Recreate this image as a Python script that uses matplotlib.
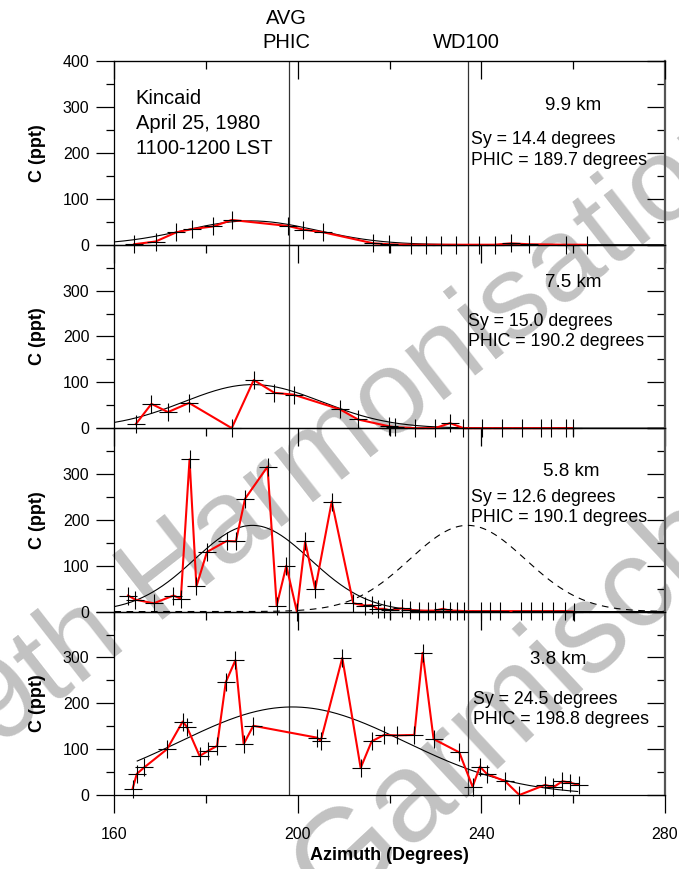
import numpy as np
import matplotlib
matplotlib.use("Agg")
import matplotlib.pyplot as plt
from matplotlib.ticker import MultipleLocator

plt.rcParams['font.family'] = ['Liberation Sans', 'DejaVu Sans']

# ---------------- data ----------------
az1 = [164.3, 169.0, 173.5, 176.9, 181.6, 185.6, 197.8, 201.2, 205.6, 216.5, 219.9,
       224.6, 227.9, 231.2, 234.5, 239.5, 242.9, 246.5, 250.3, 258.4, 263.0]
c1 = [1, 7, 27, 34, 40, 54, 41, 33, 27, 3, 1,
      0, 0, 0, 0, 0, 0, 3, 1, 0, 0]

az2 = [164.7, 168.1, 171.7, 176.3, 185.6, 190.4, 194.9, 199.1, 209.2, 213.1, 219.9,
       221.2, 225.6, 229.9, 233.2, 236.1, 240.1, 244.5, 248.8, 253.0, 255.1, 258.4, 259.9]
c2 = [9, 53, 35, 55, 0, 105, 77, 73, 41, 19, 4,
      2, 0, 0, 11, 0, 0, 0, 0, 0, 0, 0, 0]

az3 = [163.0, 164.6, 168.6, 172.9, 174.5, 176.4, 177.9, 180.2, 184.5, 186.5, 188.5,
       193.4, 195.4, 197.5, 199.8, 201.6, 203.8, 207.4, 212.1, 214.7, 216.1, 217.4, 218.7,
       220.0, 222.7, 224.5, 226.5, 228.3, 229.9, 231.6, 233.2, 234.7, 236.3,
       240.0, 241.9, 244.1, 248.6, 250.8, 253.3, 255.7, 258.3, 260.1]
c3 = [35, 26, 18, 35, 28, 332, 55, 130, 154, 153, 246,
      316, 13, 100, 0, 153, 49, 240, 18, 13, 14, 6, 6,
      3, 7, 3, 2, 2, 2, 6, 2, 2, 1,
      1, 1, 1, 1, 1, 1, 1, 1, 0]

az4 = [164.0, 164.9, 166.5, 171.5, 174.9, 175.8, 178.6, 180.4, 182.4, 184.3, 186.4,
       188.2, 190.3, 204.2, 205.0, 209.7, 213.7, 216.1, 218.8, 221.6, 225.4, 227.2,
       229.6, 235.2, 238.1, 239.7, 241.2, 245.2, 248.3, 253.9, 255.7, 257.7, 259.3, 261.2]
c4 = [14, 46, 60, 100, 160, 149, 85, 96, 107, 246, 294,
      111, 151, 125, 118, 299, 59, 117, 131, 130, 131, 310,
      122, 93, 18, 62, 46, 30, 0, 22, 17, 30, 27, 22]

# Gaussian fit parameters (amplitude, PHIC, Sy) and plotted ranges
fit_amp = [52, 95, 188, 192]
fit_phic = [189.7, 190.2, 190.1, 198.8]
fit_sy = [14.4, 15.0, 12.6, 24.5]
fit_lo = [160, 160, 160, 165]
fit_hi = [280, 280, 280, 261]
wd100 = 237.0
avg_phic = 198.1

distances = ['9.9 km', '7.5 km', '5.8 km', '3.8 km']
site_lines = ['Kincaid', 'April 25, 1980', '1100-1200 LST']

xticks = [160, 200, 240, 280]
xticklabels = ['160', '200', '240', '280']
yticks = [0, 100, 200, 300, 400]
yticklabels_top = ['0', '100', '200', '300', '400']
yticklabels_other = ['0', '100', '200', '300', '']

azs = [az1, az2, az3, az4]
cs = [c1, c2, c3, c4]

# ---------------- figure ----------------
W, H = 679, 869
fig = plt.figure(figsize=(W / 100, H / 100), dpi=100)
fig.patch.set_facecolor('white')

left_px, right_px = 114.3, 664.8
top_px, bot_px = 61.3, 795.0
ph = (bot_px - top_px) / 4


def px(x, y):
    return x / W, 1 - y / H


# watermark (behind everything)
fig.text(*px(-2, 748), '9th Harmonisation', rotation=38, rotation_mode='anchor',
         ha='left', va='baseline', fontsize=86, color='#c2c2c2', zorder=-10)
fig.text(*px(335, 915), 'Garmisch-Partenkirchen', rotation=43, rotation_mode='anchor',
         ha='left', va='baseline', fontsize=92, color='#c2c2c2', zorder=-10)

axes = []
for i in range(4):
    y0 = 1 - (top_px + ph * (i + 1)) / H
    ax = fig.add_axes([left_px / W, y0, (right_px - left_px) / W, ph / H])
    ax.set_facecolor('none')
    axes.append(ax)
    ax.set_xlim(160, 280)
    ax.set_ylim(0, 400)

    # data
    ax.plot(azs[i], cs[i], color='#ff0000', lw=1.5, zorder=3, clip_on=False)
    ax.plot(azs[i], cs[i], linestyle='none', marker='+', markersize=13,
            markeredgewidth=0.8, color='black', zorder=4, clip_on=False)

    # fitted gaussian
    xg = np.linspace(fit_lo[i], fit_hi[i], 400)
    yg = fit_amp[i] * np.exp(-(xg - fit_phic[i]) ** 2 / (2 * fit_sy[i] ** 2))
    ax.plot(xg, yg, color='black', lw=0.8, zorder=2)
    if i == 2:
        yd = fit_amp[i] * np.exp(-(xg - wd100) ** 2 / (2 * fit_sy[i] ** 2))
        ax.plot(xg, yd, color='black', lw=0.8, ls=(0, (6, 5)), zorder=2)

    ax.axvline(avg_phic, color='#333333', lw=0.9, zorder=1)
    ax.axvline(wd100, color='#333333', lw=0.9, zorder=1)

    # ticks
    ax.set_xticks(xticks)
    ax.xaxis.set_minor_locator(MultipleLocator(20))
    ax.set_yticks(yticks)
    ax.yaxis.set_minor_locator(MultipleLocator(50))
    ax.tick_params(axis='both', which='major', direction='out', length=13, width=0.9,
                   labelsize=11.5, pad=5)
    ax.tick_params(axis='x', which='major', pad=10)
    ax.tick_params(axis='both', which='minor', direction='out', length=6, width=0.9)
    ax.tick_params(axis='y', right=False)
    ax.set_yticklabels(yticklabels_top if i == 0 else yticklabels_other)
    if i == 3:
        ax.set_xticklabels(xticklabels)
        ax.set_xlabel('Azimuth (Degrees)', fontsize=13, fontweight='bold', labelpad=4)
    else:
        ax.tick_params(axis='x', labelbottom=False)
    ax.set_ylabel('C (ppt)', fontsize=13, fontweight='bold', labelpad=12)

    for s in ['left', 'bottom', 'top']:
        ax.spines[s].set_linewidth(0.9)
    ax.spines['right'].set_visible(False)

    sy = ax.secondary_yaxis('right')
    sy.set_yticks(yticks)
    sy.yaxis.set_minor_locator(MultipleLocator(50))
    sy.tick_params(which='major', direction='in', length=13, width=0.9, labelright=False)
    sy.tick_params(which='minor', direction='in', length=6, width=0.9)
    sy.spines['right'].set_linewidth(1.6)
    sy.spines['right'].set_color('#555555')

    if i == 0:
        sx = ax.secondary_xaxis('top')
        sx.set_xticks(xticks)
        sx.xaxis.set_minor_locator(MultipleLocator(20))
        sx.tick_params(which='major', direction='in', length=13, width=0.9, labeltop=False)
        sx.tick_params(which='minor', direction='in', length=6, width=0.9)

# annotations
for k, line in enumerate(site_lines):
    fig.text(*px(135.5, 99 + 24.5 * k), line, fontsize=14.5, ha='left', va='center')

km_pos = [(573, 106), (573, 283), (571, 472), (558, 660)]
sy_pos = [(471, 140), (468, 321), (471, 497), (473, 699)]
for i in range(4):
    fig.text(*px(*km_pos[i]), distances[i], fontsize=13.5, ha='center', va='center')
    fig.text(*px(*sy_pos[i]), 'Sy = %.1f degrees' % fit_sy[i],
             fontsize=12.8, ha='left', va='center')
    fig.text(*px(sy_pos[i][0], sy_pos[i][1] + 20.5), 'PHIC = %.1f degrees' % fit_phic[i],
             fontsize=12.8, ha='left', va='center')

fig.text(*px(286, 18), 'AVG', fontsize=14.5, ha='center', va='center')
fig.text(*px(286, 42), 'PHIC', fontsize=14.5, ha='center', va='center')
fig.text(*px(466, 42), 'WD100', fontsize=14.5, ha='center', va='center')

fig.savefig('out.png', dpi=100, facecolor='white')
